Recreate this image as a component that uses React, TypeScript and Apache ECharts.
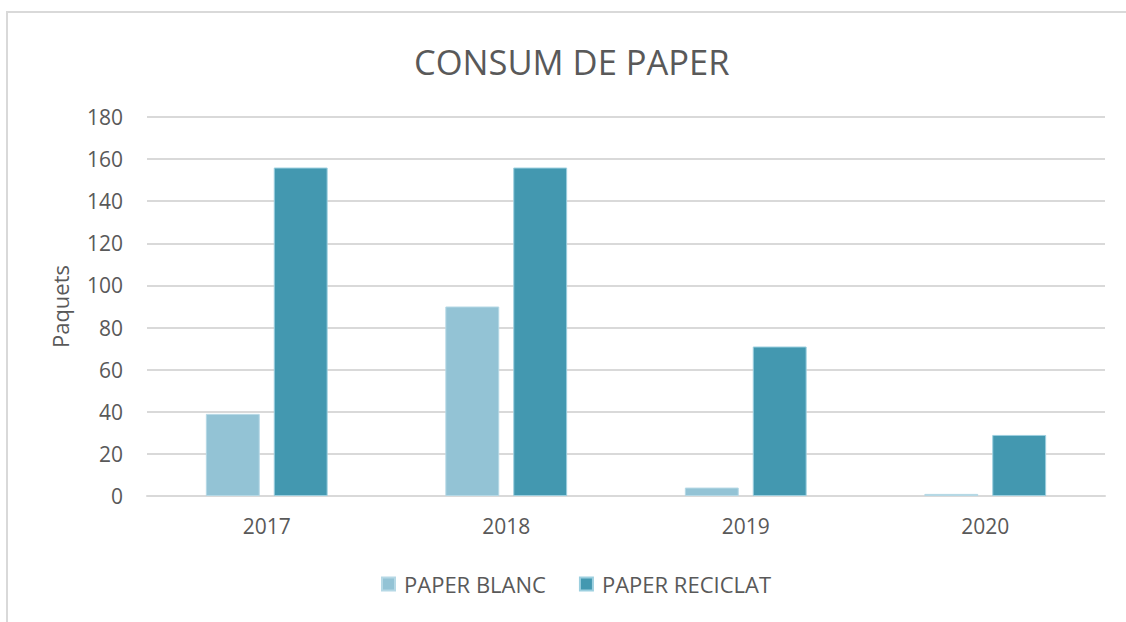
import React, { useEffect, useRef } from "react";
import * as echarts from "echarts";

const categories = ["2017", "2018", "2019", "2020"];
const paperBlanc = [39, 90, 4, 1];
const paperReciclat = [156, 156, 71, 29];
const seriesNames = ["PAPER BLANC", "PAPER RECICLAT"];
const title = "CONSUM DE PAPER";
const yAxisName = "Paquets";

const FONT = "'Open Sans', sans-serif";
const TXT = "#595959";

export default function App() {
  const ref = useRef<HTMLDivElement>(null);
  useEffect(() => {
    if (!ref.current) return;
    const chart = echarts.init(ref.current, null, { renderer: "svg" });
    chart.setOption({
      animation: false,
      backgroundColor: "#ffffff",
      graphic: [
        {
          type: "rect",
          shape: { x: 7, y: 12, width: 1130, height: 620 },
          style: { fill: "none", stroke: "#d9d9d9", lineWidth: 2 },
          silent: true,
        },
      ],
      title: {
        text: title,
        left: 414,
        top: 44,
        padding: 0,
        textStyle: { fontFamily: FONT, fontSize: 34.5, fontWeight: "normal", color: TXT },
      },
      legend: {
        data: seriesNames,
        bottom: 27,
        left: 381,
        padding: 0,
        itemWidth: 13,
        itemHeight: 13,
        itemGap: 33,
        icon: "rect",
        textStyle: { fontFamily: FONT, fontSize: 22, color: TXT, padding: [0, 0, 0, 4] },
      },
      grid: { left: 147, right: 21, top: 117, bottom: 126 },
      xAxis: {
        type: "category",
        data: categories,
        axisLine: { lineStyle: { color: "#d9d9d9", width: 2 } },
        axisTick: { show: false },
        axisLabel: { fontFamily: FONT, fontSize: 21, color: TXT, margin: 19 },
      },
      yAxis: {
        type: "value",
        min: 0,
        max: 180,
        interval: 20,
        name: yAxisName,
        nameLocation: "middle",
        nameGap: 76,
        nameTextStyle: { fontFamily: FONT, fontSize: 22, color: TXT },
        axisLine: { show: false },
        axisTick: { show: false },
        splitLine: { lineStyle: { color: "#d9d9d9", width: 2 } },
        axisLabel: { fontFamily: FONT, fontSize: 21, color: TXT, margin: 24 },
      },
      series: [
        {
          name: seriesNames[0],
          type: "bar",
          data: paperBlanc,
          barWidth: "22.5%",
          barGap: "26%",
          itemStyle: { color: "#93c3d5", borderColor: "#b5d8e5", borderWidth: 1 },
        },
        {
          name: seriesNames[1],
          type: "bar",
          data: paperReciclat,
          barWidth: "22.5%",
          barGap: "26%",
          itemStyle: { color: "#4398b0", borderColor: "#9ccfdf", borderWidth: 1 },
        },
      ],
    });
    return () => chart.dispose();
  }, []);
  return (
    <div
      ref={ref}
      style={{ position: "fixed", left: 0, top: 0, width: 1126, height: 622 }}
    />
  );
}
